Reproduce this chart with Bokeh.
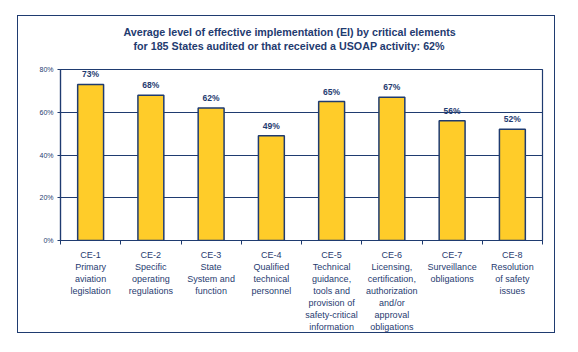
from bokeh.plotting import figure
from bokeh.models import Range1d, FixedTicker, ColumnDataSource, Title
from bokeh.core.properties import value
from bokeh.embed import file_html
from bokeh.resources import INLINE

codes = ["CE-1", "CE-2", "CE-3", "CE-4", "CE-5", "CE-6", "CE-7", "CE-8"]
names = [
    "Primary\naviation\nlegislation",
    "Specific\noperating\nregulations",
    "State\nSystem and\nfunction",
    "Qualified\ntechnical\npersonnel",
    "Technical\nguidance,\ntools and\nprovision of\nsafety-critical\ninformation",
    "Licensing,\ncertification,\nauthorization\nand/or\napproval\nobligations",
    "Surveillance\nobligations",
    "Resolution\nof safety\nissues",
]
ei_values = [73, 68, 62, 49, 65, 67, 56, 52]
y_ticks = [0, 20, 40, 60, 80]
title_line1 = "Average level of effective implementation (EI) by critical elements"
title_line2 = "for 185 States audited or that received a USOAP activity: 62%"

NAVY = "#1F3B70"
GOLD = "#FFCC29"
FONT = "Liberation Sans"

n = len(codes)
xs = [i + 0.5 for i in range(n)]
src = ColumnDataSource(dict(x=xs, v=ei_values, lab=[f"{v}%" for v in ei_values]))

p = figure(width=538, height=318, x_range=Range1d(0, n), y_range=Range1d(0, 80),
           output_backend="svg", toolbar_location=None,
           min_border_left=42, min_border_right=14, min_border_top=53,
           min_border_bottom=86)
p.margin = (15, 0, 0, 17)
p.styles = {"border": "1.5px solid " + NAVY}
p.background_fill_color = "white"
p.border_fill_color = "white"
p.outline_line_color = NAVY
p.outline_line_width = 1.2

title_style = dict(align="left", text_font=FONT, text_font_size="10.7px",
                   text_font_style="bold", text_color=NAVY, standoff=0)
# panels stack outward from the frame: spacer, then line 2, then line 1
p.add_layout(Title(text="\u00a0", text_font_size="14px", standoff=0), "above")
p.add_layout(Title(text=title_line2, offset=73, **title_style), "above")
p.add_layout(Title(text=title_line1, offset=63, **title_style), "above")

p.vbar(x="x", top="v", width=0.43, source=src, fill_color=GOLD,
       line_color=NAVY, line_width=1.5)
p.text(x="x", y="v", text="lab", source=src, text_font=value(FONT),
       text_font_size="8.5px", text_font_style="bold", text_color=NAVY,
       text_align="center", text_baseline="bottom", y_offset=-5)

# x axis
p.xaxis.ticker = FixedTicker(ticks=xs, minor_ticks=list(range(n + 1)))
p.xaxis.major_label_overrides = {x: f"{c}\n{nm}" for x, c, nm in zip(xs, codes, names)}
p.xaxis.major_tick_line_color = None
p.xaxis.major_tick_out = 0
p.xaxis.major_tick_in = 0
p.xaxis.minor_tick_line_color = NAVY
p.xaxis.minor_tick_out = 4
p.xaxis.minor_tick_in = 0
p.xaxis.axis_line_color = NAVY
p.xaxis.axis_line_width = 1.2
p.xaxis.major_label_text_font = FONT
p.xaxis.major_label_text_font_size = "9px"
p.xaxis.major_label_text_color = NAVY
p.xaxis.major_label_standoff = 5

# y axis
p.yaxis.ticker = FixedTicker(ticks=y_ticks, minor_ticks=[])
p.yaxis.major_label_overrides = {t: f"{t}%" for t in y_ticks}
p.yaxis.major_tick_line_color = NAVY
p.yaxis.major_tick_out = 3
p.yaxis.major_tick_in = 0
p.yaxis.axis_line_color = NAVY
p.yaxis.axis_line_width = 1.2
p.yaxis.major_label_text_font = FONT
p.yaxis.major_label_text_font_size = "7px"
p.yaxis.major_label_text_color = NAVY
p.yaxis.major_label_standoff = 4

p.xgrid.grid_line_color = None
p.ygrid.grid_line_color = NAVY
p.ygrid.grid_line_width = 1.2

open("out.html", "w").write(file_html(p, INLINE))
